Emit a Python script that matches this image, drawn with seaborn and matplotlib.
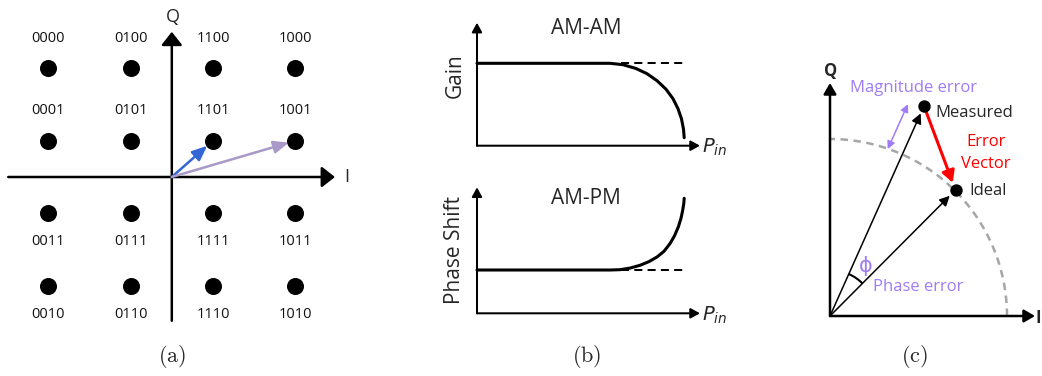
import matplotlib
matplotlib.use("Agg")
import numpy as np
import matplotlib.pyplot as plt
from matplotlib.patches import Arc
import seaborn as sns

# ---------------- data ----------------
# (a) 16-QAM constellation
qam_i = [-3, -1, 1, 3, -3, -1, 1, 3, -3, -1, 1, 3, -3, -1, 1, 3]
qam_q = [3, 3, 3, 3, 1, 1, 1, 1, -1, -1, -1, -1, -3, -3, -3, -3]
qam_bits = ["0000", "0100", "1100", "1000",
            "0001", "0101", "1101", "1001",
            "0011", "0111", "1111", "1011",
            "0010", "0110", "1110", "1010"]
vec_blue = (1, 1)
vec_purple = (3, 1)

# (b) AM-AM / AM-PM (arbitrary units)
am_pin = [0, 13.3, 14.6, 15.9, 17.0, 18.0, 18.9, 19.6, 20.1, 20.45, 20.65, 20.72]
am_gain = [8.24, 8.24, 8.1, 7.72, 7.2, 6.5, 5.65, 4.7, 3.7, 2.68, 1.65, 0.8]
pm_pin = [0, 13.3, 14.3, 15.3, 16.3, 17.2, 18.0, 18.7, 19.3, 19.75, 20.13,
          20.4, 20.57, 20.68, 20.72]
pm_phase = [4.33, 4.33, 4.36, 4.52, 4.8, 5.17, 5.63, 6.2, 6.97, 7.75, 8.63,
            9.5, 10.3, 11.0, 11.5]
ref_pin = [14.4, 20.8]

# (c) error vector
ideal = (1.255, 1.26)
measured = (0.94, 2.10)
ref_radius = 1.77

W, H = 1042, 376
sns.set_style("white")
plt.rcParams["font.family"] = ["Open Sans", "DejaVu Sans"]

fig = plt.figure(figsize=(W / 100, H / 100), dpi=100)
fig.patch.set_facecolor("white")


def add_ax(x0, y0, x1, y1):
    ax = fig.add_axes([x0 / W, 1 - y1 / H, (x1 - x0) / W, (y1 - y0) / H])
    ax.set_axis_off()
    return ax


def ftext(px, py, s, **kw):
    fig.text(px / W, 1 - py / H, s, **kw)


def arrow(ax, start, end, color="black", lw=1.8, hl=8, hw=6, sa=0, sb=0,
          style="-|>"):
    ax.annotate("", xy=end, xytext=start,
                arrowprops=dict(arrowstyle=f"{style},head_length={hl},head_width={hw}",
                                color=color, lw=lw, shrinkA=sa, shrinkB=sb,
                                mutation_scale=1))


# ---------------- panel (a) ----------------
axa = add_ax(0, 0, 355, 330)
axa.set_xlim(-171.8 / 41.2, (355 - 171.8) / 41.2)
axa.set_ylim((177 - 330) / 36.3, 177 / 36.3)
arrow(axa, (-3.97, 0), (3.96, 0), lw=1.8, hl=8, hw=6.3)
arrow(axa, (0, -3.96), (0, 4.0), lw=1.8, hl=8, hw=6.3)
sns.scatterplot(x=qam_i, y=qam_q, ax=axa, s=150, color="black",
                linewidth=0, legend=False, zorder=3)
for xi, qi, b in zip(qam_i, qam_q, qam_bits):
    off = 21.5 if qi > 0 else -20.5
    axa.annotate(b, (xi, qi), xytext=(0, off), textcoords="offset points",
                 ha="center", va="center", fontsize=10.5, color="#111111")
arrow(axa, (0, 0), vec_blue, color="#3466d6", lw=1.8, hl=9, hw=3.8, sb=5.5)
arrow(axa, (0, 0), vec_purple, color="#a899c9", lw=1.8, hl=9, hw=3.8, sb=5.0)
ftext(173, 17, "Q", ha="center", va="center", fontsize=13)
ftext(347, 177, "I", ha="center", va="center", fontsize=13)
ftext(172, 357, r"$\mathrm{(a)}$", ha="center", va="center", fontsize=16,
      math_fontfamily="cm")

# ---------------- panel (b) ----------------
for (y0, y1, oy, pin, val, title, ylab, tip, ty, ly) in [
        (0, 160, 145.7, am_pin, am_gain, "AM-AM", "Gain", 12.3, 28, 76),
        (170, 330, 313.3, pm_pin, pm_phase, "AM-PM", "Phase Shift", 12.6, 199, 250)]:
    ax = add_ax(430, y0, 730, y1)
    ax.set_xlim(-4.7, 25.3)
    ax.set_ylim(-(y1 - oy) / 10, (oy - y0) / 10)
    arrow(ax, (0, 0), (22.3, 0), lw=1.45, hl=5.5, hw=3.0)
    arrow(ax, (0, 0), (0, tip), lw=1.45, hl=5.5, hw=3.0)
    sns.lineplot(x=pin, y=val, ax=ax, sort=False, estimator=None,
                 color="black", lw=2.2, legend=False)
    ax.plot(ref_pin, [val[0], val[0]], color="black", lw=1.45,
            linestyle=(0, (4, 2.6)))
    ftext(586, ty, title, ha="center", va="center", fontsize=15)
    ftext(455, ly, ylab, ha="center", va="center", fontsize=15, rotation=90)
    ftext(702, oy + 2, r"$P_{in}$", ha="left", va="center", fontsize=14,
          math_fontfamily="dejavusans")
ftext(587, 357, r"$\mathrm{(b)}$", ha="center", va="center", fontsize=16,
      math_fontfamily="cm")

# ---------------- panel (c) ----------------
axc = add_ax(790, 40, 1042, 330)
axc.set_xlim(-0.40, 2.12)
axc.set_ylim(-0.14, 2.76)
arrow(axc, (0, 0), (2.05, 0), lw=1.8, hl=6.5, hw=3.8)
arrow(axc, (0, 0), (0, 2.33), lw=1.8, hl=6.5, hw=3.8)
axc.add_patch(Arc((0, 0), 2 * ref_radius, 2 * ref_radius, theta1=0, theta2=90,
                  color="#a6a6a6", lw=1.8, linestyle=(0, (3.0, 2.2))))
arrow(axc, (0, 0), measured, lw=1.1, hl=6, hw=3.0, sb=5.8)
arrow(axc, (0, 0), ideal, lw=1.1, hl=6, hw=3.0, sb=5.9)
arrow(axc, measured, ideal, color="#ff0000", lw=2.2, hl=7, hw=3.8, sa=4.1, sb=5.6)
sns.scatterplot(x=[measured[0], ideal[0]], y=[measured[1], ideal[1]], ax=axc,
                s=80, color="black", linewidth=0, legend=False, zorder=4)
# magnitude error double arrow (parallel to measured vector)
mvec = np.array(measured)
mag = np.hypot(*mvec)
u = mvec / mag
n = np.array([-u[1], u[0]])
p_start = u * (mag - 0.05) + n * 0.155
p_end = u * (ref_radius - 0.01) + n * 0.155
arrow(axc, tuple(p_end), tuple(p_start), color="#9f7cf6", lw=1.1, hl=4.5,
      hw=2.3, style="<|-|>")
# phase angle arc
ang_i = np.degrees(np.arctan2(ideal[1], ideal[0]))
ang_m = np.degrees(np.arctan2(measured[1], measured[0]))
axc.add_patch(Arc((0, 0), 0.92, 0.92, theta1=ang_i, theta2=ang_m,
                  color="black", lw=1.5))
purple = "#9f7cf6"
ftext(831, 71, "Q", ha="center", va="center", fontsize=12, fontweight="bold")
ftext(1041, 318, "I", ha="right", va="center", fontsize=12, fontweight="bold")
ftext(914, 88, "Magnitude error", ha="center", va="center", fontsize=12,
      color=purple)
ftext(935, 113, "Measured", ha="left", va="center", fontsize=12)
ftext(986, 142, "Error", ha="center", va="center", fontsize=12, color="#ff0000")
ftext(986, 164, "Vector", ha="center", va="center", fontsize=12, color="#ff0000")
ftext(969, 191, "Ideal", ha="left", va="center", fontsize=12)
ftext(866, 266, "ϕ", ha="center", va="center", fontsize=15, color=purple,
      family=["DejaVu Sans"])
ftext(918, 287, "Phase error", ha="center", va="center", fontsize=12,
      color=purple)
ftext(914, 357, r"$\mathrm{(c)}$", ha="center", va="center", fontsize=16,
      math_fontfamily="cm")

fig.savefig("out.png", dpi=100, facecolor="white")
